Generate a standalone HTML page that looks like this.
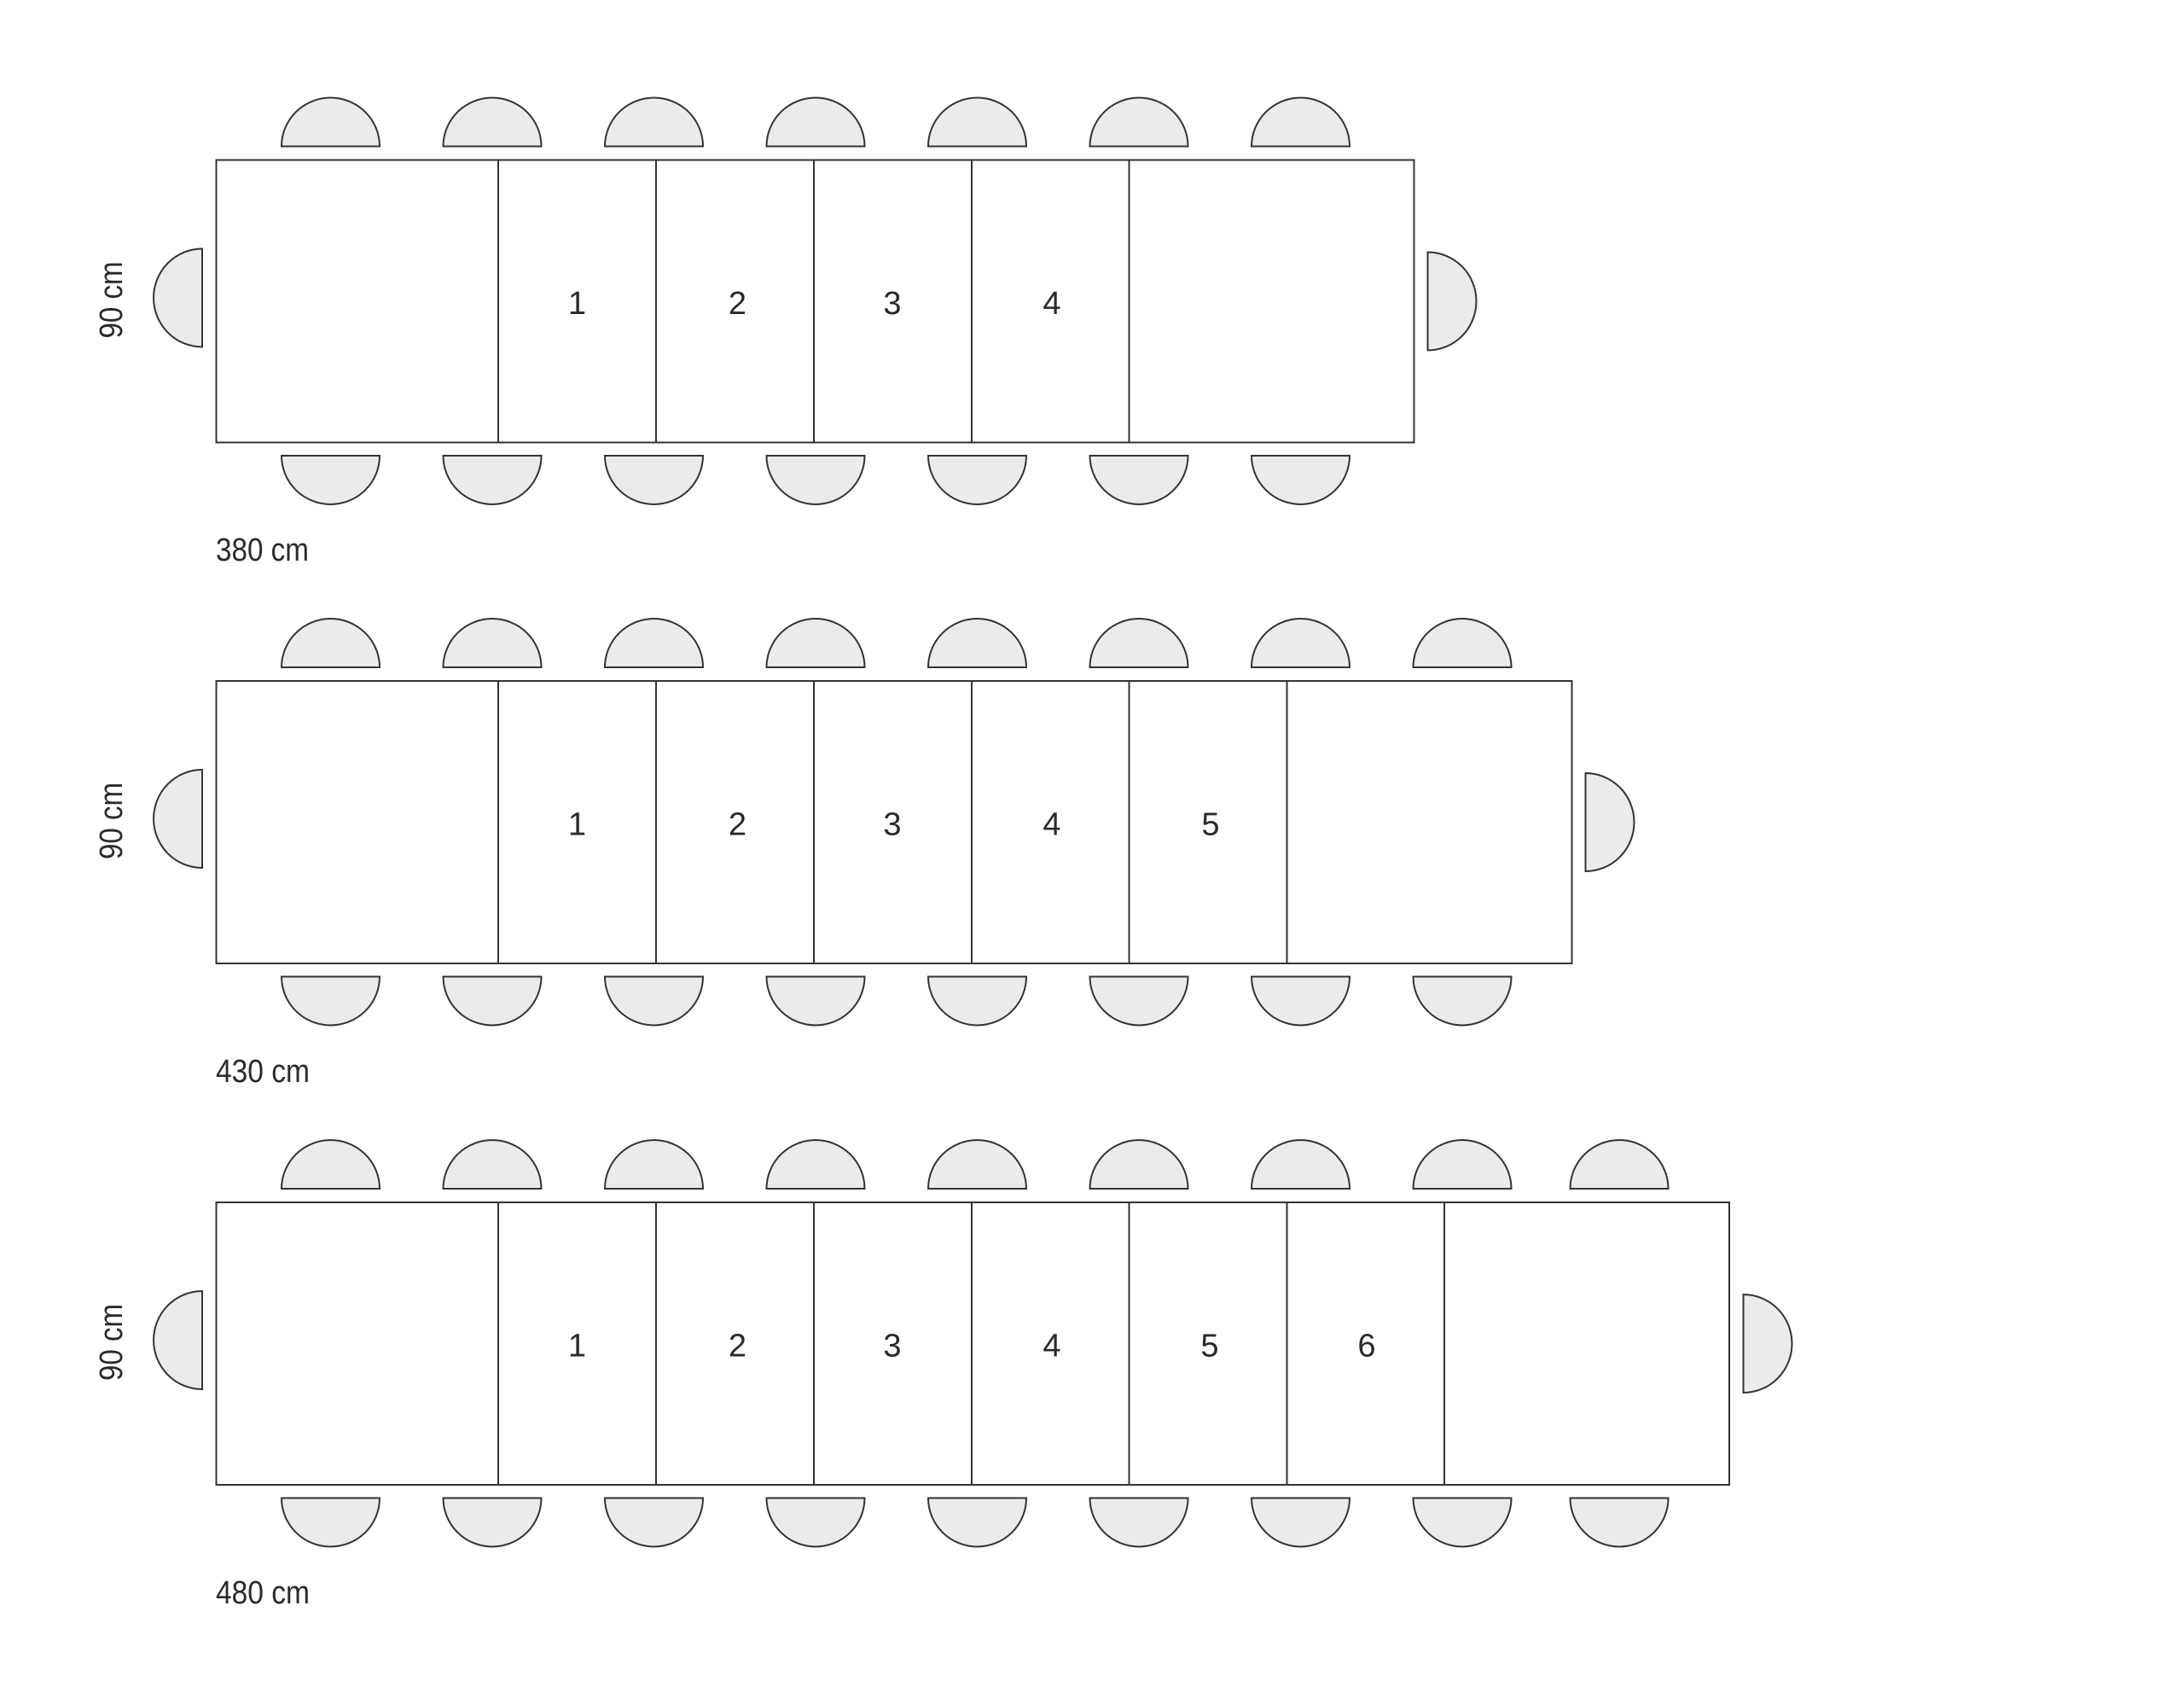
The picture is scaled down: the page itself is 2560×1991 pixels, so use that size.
<!DOCTYPE html>
<html><head><meta charset="utf-8"><style>
html,body{margin:0;padding:0;background:#fff;}
svg{display:block;}
text{font-family:"Liberation Sans",sans-serif;fill:#2a2a2a;}
</style></head><body>
<svg width="2560" height="1991" viewBox="0 0 2560 1991" xmlns="http://www.w3.org/2000/svg">
<defs>
<path id="ct" d="M-57.5,0 A57.5,57 0 0 1 57.5,0 Z"/>
<path id="cb" d="M-57.5,0 A57.5,57 0 0 0 57.5,0 Z"/>
<path id="cl" d="M0,-57.5 A57,57.5 0 0 0 0,57.5 Z"/>
<path id="cr" d="M0,-57.5 A57,57.5 0 0 1 0,57.5 Z"/>
</defs>
<g fill="#ebebeb" stroke="#333" stroke-width="2">
<use href="#ct" x="387.5" y="171.5"/><use href="#ct" x="577" y="171.5"/><use href="#ct" x="766.5" y="171.5"/><use href="#ct" x="956" y="171.5"/><use href="#ct" x="1145.5" y="171.5"/><use href="#ct" x="1335" y="171.5"/><use href="#ct" x="1524.5" y="171.5"/>
<use href="#cb" x="387.5" y="534"/><use href="#cb" x="577" y="534"/><use href="#cb" x="766.5" y="534"/><use href="#cb" x="956" y="534"/><use href="#cb" x="1145.5" y="534"/><use href="#cb" x="1335" y="534"/><use href="#cb" x="1524.5" y="534"/>
<use href="#cl" x="237" y="349"/><use href="#cr" x="1673.5" y="353"/>
<use href="#ct" x="387.5" y="782"/><use href="#ct" x="577" y="782"/><use href="#ct" x="766.5" y="782"/><use href="#ct" x="956" y="782"/><use href="#ct" x="1145.5" y="782"/><use href="#ct" x="1335" y="782"/><use href="#ct" x="1524.5" y="782"/><use href="#ct" x="1714" y="782"/>
<use href="#cb" x="387.5" y="1144.5"/><use href="#cb" x="577" y="1144.5"/><use href="#cb" x="766.5" y="1144.5"/><use href="#cb" x="956" y="1144.5"/><use href="#cb" x="1145.5" y="1144.5"/><use href="#cb" x="1335" y="1144.5"/><use href="#cb" x="1524.5" y="1144.5"/><use href="#cb" x="1714" y="1144.5"/>
<use href="#cl" x="237" y="959.5"/><use href="#cr" x="1858.5" y="963.5"/>
<use href="#ct" x="387.5" y="1393"/><use href="#ct" x="577" y="1393"/><use href="#ct" x="766.5" y="1393"/><use href="#ct" x="956" y="1393"/><use href="#ct" x="1145.5" y="1393"/><use href="#ct" x="1335" y="1393"/><use href="#ct" x="1524.5" y="1393"/><use href="#ct" x="1714" y="1393"/><use href="#ct" x="1898" y="1393"/>
<use href="#cb" x="387.5" y="1755.5"/><use href="#cb" x="577" y="1755.5"/><use href="#cb" x="766.5" y="1755.5"/><use href="#cb" x="956" y="1755.5"/><use href="#cb" x="1145.5" y="1755.5"/><use href="#cb" x="1335" y="1755.5"/><use href="#cb" x="1524.5" y="1755.5"/><use href="#cb" x="1714" y="1755.5"/><use href="#cb" x="1898" y="1755.5"/>
<use href="#cl" x="237" y="1570.5"/><use href="#cr" x="2043.5" y="1574.5"/>
</g>
<g fill="#fff" stroke="#333" stroke-width="2">
<rect x="253.5" y="187.5" width="1404" height="331"/>
<rect x="253.5" y="798" width="1589" height="331"/>
<rect x="253.5" y="1409" width="1773.5" height="331"/>
</g>
<g stroke="#333" stroke-width="2">
<path d="M584,187.5V518.5M769,187.5V518.5M954,187.5V518.5M1139,187.5V518.5M1323.5,187.5V518.5"/>
<path d="M584,798V1129M769,798V1129M954,798V1129M1139,798V1129M1323.5,798V1129M1508.5,798V1129"/>
<path d="M584,1409V1740M769,1409V1740M954,1409V1740M1139,1409V1740M1323.5,1409V1740M1508.5,1409V1740M1693,1409V1740"/>
</g>
<g font-size="38" text-anchor="middle">
<text x="676.5" y="368">1</text><text x="864.5" y="368">2</text><text x="1046" y="368">3</text><text x="1233" y="368">4</text>
<text x="676.5" y="978.5">1</text><text x="864.5" y="978.5">2</text><text x="1046" y="978.5">3</text><text x="1233" y="978.5">4</text><text x="1419" y="978.5">5</text>
<text x="676.5" y="1589.5">1</text><text x="864.5" y="1589.5">2</text><text x="1046" y="1589.5">3</text><text x="1233" y="1589.5">4</text><text x="1418" y="1589.5">5</text><text x="1602" y="1589.5">6</text>
</g>
<g font-size="38">
<text transform="translate(143,351.5) rotate(-90)" text-anchor="middle" textLength="90" lengthAdjust="spacingAndGlyphs">90 cm</text>
<text transform="translate(143,962) rotate(-90)" text-anchor="middle" textLength="90" lengthAdjust="spacingAndGlyphs">90 cm</text>
<text transform="translate(143,1573) rotate(-90)" text-anchor="middle" textLength="90" lengthAdjust="spacingAndGlyphs">90 cm</text>
<text x="253" y="657" textLength="109" lengthAdjust="spacingAndGlyphs">380 cm</text>
<text x="253" y="1268" textLength="110" lengthAdjust="spacingAndGlyphs">430 cm</text>
<text x="253" y="1879" textLength="110" lengthAdjust="spacingAndGlyphs">480 cm</text>
</g>
</svg>
</body></html>
